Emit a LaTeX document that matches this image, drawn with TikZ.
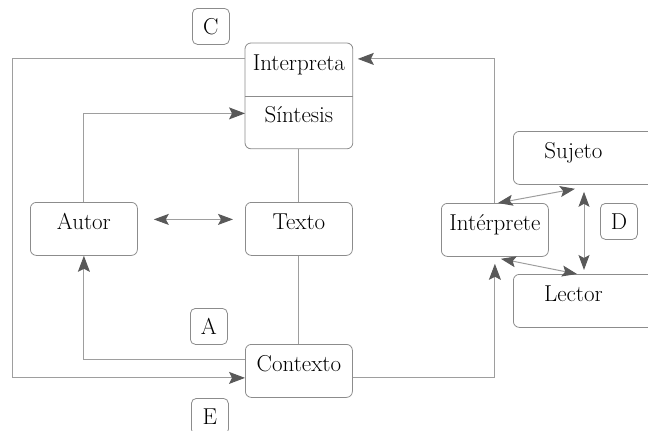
\documentclass[tikz,border=0pt]{standalone}
\usepackage{tikz}
\usetikzlibrary{arrows.meta}

\begin{document}
\begin{tikzpicture}[x=1pt,y=-1pt,
	box/.style={draw=black!45, line width=0.8pt, rounded corners=6pt, anchor=north west,
		minimum width=107pt, inner sep=0pt, text height=27pt, text depth=26pt,
		font=\fontsize{23}{26}\selectfont},
	half/.style={box, draw=none},
	tag/.style={draw=black!45, line width=0.8pt, rounded corners=5pt, anchor=north west,
		minimum width=37pt, minimum height=36pt, inner sep=0pt,
		font=\fontsize{23}{26}\selectfont},
	line/.style={draw=black!38, line width=1pt},
	tip/.style={line, -{Stealth[length=16pt,width=12pt,inset=3pt,color=black!65]}},
	both/.style={line, {Stealth[length=15pt,width=11pt,inset=3pt,color=black!65]}-{Stealth[length=15pt,width=11pt,inset=3pt,color=black!65]}}]
	\clip (0,0) rectangle (648,431);
	
	% boxes
	\node[half] (interp) at (245,43) {Interpreta};
	\node[half] (sintesis) at (245,95) {Síntesis};
	\draw[draw=black!45, line width=0.8pt, rounded corners=6pt] (interp.north west) rectangle (sintesis.south east);
	\draw[draw=black!45, line width=0.8pt] (interp.south west) -- (interp.south east);
	\node[box] (autor) at (30,202) {Autor};
	\node[box] (texto) at (245,202) {Texto};
	\node[box] (contexto) at (245,344) {Contexto};
	\node[box] (interprete) at (441,203) {Intérprete};
	\node[box, minimum width=150pt] (sujeto) at (513,131) {\hspace{-30pt}Sujeto};
	\node[box, minimum width=150pt] (lector) at (513,274) {\hspace{-30pt}Lector};
	
	% tags
	\node[tag] (labC) at (192,8) {C};
	\node[tag] (labA) at (190,308) {A};
	\node[tag] (labD) at (600,203) {D};
	\node[tag] (labE) at (191,398) {E};
	
	% connectors
	\draw[tip] ([yshift=11pt]interp.west) -- ++(-233,0) |- ([yshift=-7pt]contexto.west);
	\draw[tip] (autor.north) |- ([yshift=8.5pt]sintesis.west);
	\draw[tip] ([yshift=11pt]contexto.west) -| (autor.south);
	\draw[tip, shorten >=7pt] ([yshift=-7pt]contexto.east) -| (interprete.south);
	\draw[tip, shorten >=5pt] (interprete.north) |- ([yshift=11pt]interp.east);
	\draw[both, shorten <=16pt, shorten >=12pt] ([yshift=9.5pt]autor.east) -- ([yshift=9.5pt]texto.west);
	\draw[line] (sintesis.south) -- (texto.north);
	\draw[line] (texto.south) -- (contexto.north);
	\draw[both] ([xshift=3pt]interprete.north) -- ([xshift=62pt,yshift=-4pt]sujeto.south west);
	\draw[both] ([xshift=6pt,yshift=-2pt]interprete.south) -- ([xshift=64pt]lector.north west);
	\draw[both] ([xshift=71pt,yshift=-7pt]sujeto.south west) -- ([xshift=71pt,yshift=4pt]lector.north west);
\end{tikzpicture}
\end{document}
